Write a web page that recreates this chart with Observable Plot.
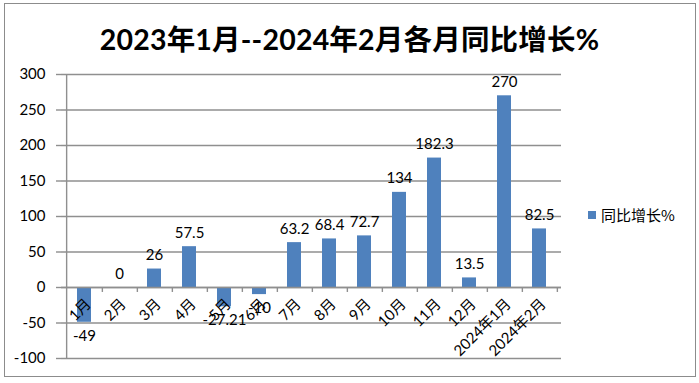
<!DOCTYPE html>
<html><head><meta charset="utf-8">
<script src="https://cdn.jsdelivr.net/npm/d3@7"></script>
<script src="https://cdn.jsdelivr.net/npm/@observablehq/plot@0.6"></script>
<style>
html,body{margin:0;padding:0;background:#fff;}
#wrap{position:relative;width:699px;height:383px;overflow:hidden;font-family:Lato,"Noto Sans CJK SC",sans-serif;}
#border{position:absolute;left:4px;top:3px;width:692px;height:374px;border:1px solid #8c8c8c;box-sizing:border-box;}
#title{position:absolute;left:0;top:19px;width:699px;text-align:center;font-size:28.5px;font-weight:bold;color:#000;line-height:40px;font-family:Lato,"Noto Sans CJK SC",sans-serif;letter-spacing:0.2px;}
#plot{position:absolute;left:0;top:0;}
#legend{position:absolute;left:588px;top:204px;font-size:15px;color:#000;display:flex;align-items:center;font-family:"Noto Sans CJK SC",sans-serif;}
#legend .sw{width:8px;height:8px;background:#4f81bd;margin-right:5px;}
</style></head>
<body>
<div id="wrap">
  <div id="border"></div>
  <div id="plot"></div>
  <div id="title">2023年1月--2024年2月各月同比增长%</div>
  <div id="legend"><span class="sw"></span><span>同比增长%</span></div>
</div>
<script>
const months = ["1月","2月","3月","4月","5月","6月","7月","8月","9月","10月","11月","12月","2024年1月","2024年2月"];
const growth = [-49, 0, 26, 57.5, -27.21, -10, 63.2, 68.4, 72.7, 134, 182.3, 13.5, 270, 82.5];
const valueLabels = ["-49","0","26","57.5","-27.21","-10","63.2","68.4","72.7","134","182.3","13.5","270","82.5"];
const yTicks = [-100, -50, 0, 50, 100, 150, 200, 250, 300];
const seriesName = "同比增长%";

const W = 699, H = 383, ML = 61, MR = 138, MT = 74, MB = 25;
const padIn = 0.6, padOut = 0.3;
const step = (W - ML - MR) / (months.length - padIn + 2 * padOut);

const data = months.map((m, i) => ({month: m, value: growth[i], label: valueLabels[i]}));
const pos = data.filter(d => d.value >= 0);
const neg = data.filter(d => d.value < 0);
const grid = "#8f8f8f";
const font = 'Lato,"Noto Sans CJK SC",sans-serif';

const chart = Plot.plot({
  width: W, height: H,
  marginLeft: ML, marginRight: MR, marginTop: MT, marginBottom: MB,
  style: {background: "transparent", fontFamily: font, fontSize: "15px", color: "#000", overflow: "visible"},
  x: {type: "band", domain: months, paddingInner: padIn, paddingOuter: padOut, axis: null},
  y: {domain: [-100, 300], ticks: yTicks},
  marks: [
    Plot.gridY(yTicks, {stroke: grid, strokeOpacity: 1, strokeWidth: 1.4}),
    Plot.axisY(yTicks, {tickSize: 5, stroke: grid, strokeWidth: 1.4, tickPadding: 11, fontSize: 15, fill: "#000", label: null, tickFormat: d => String(d)}),
    Plot.ruleX([months[0]], {dx: -step / 2, y1: -100, y2: 300, stroke: grid, strokeWidth: 1.4}),
    Plot.barY(data, {x: "month", y: "value", fill: "#4f81bd"}),
    Plot.ruleY([0], {stroke: grid, strokeWidth: 1.4}),
    Plot.ruleX(months, {x: d => d, dx: step / 2, y1: 0, y2: -7, stroke: grid, strokeWidth: 1.4}),
    Plot.text(pos, {x: "month", y: "value", text: "label", lineAnchor: "bottom", dy: -9, fontSize: 15, fill: "#000"}),
    Plot.text(neg, {x: "month", y: "value", text: "label", lineAnchor: "top", dy: 8, fontSize: 15, fill: "#000"}),
    Plot.text(months, {x: d => d, y: () => 0, text: d => d, rotate: -45, textAnchor: "end", lineAnchor: "middle", dx: 4, dy: 14, fontSize: 15, fill: "#000"})
  ]
});
document.getElementById("plot").appendChild(chart);
</script>
</body></html>
